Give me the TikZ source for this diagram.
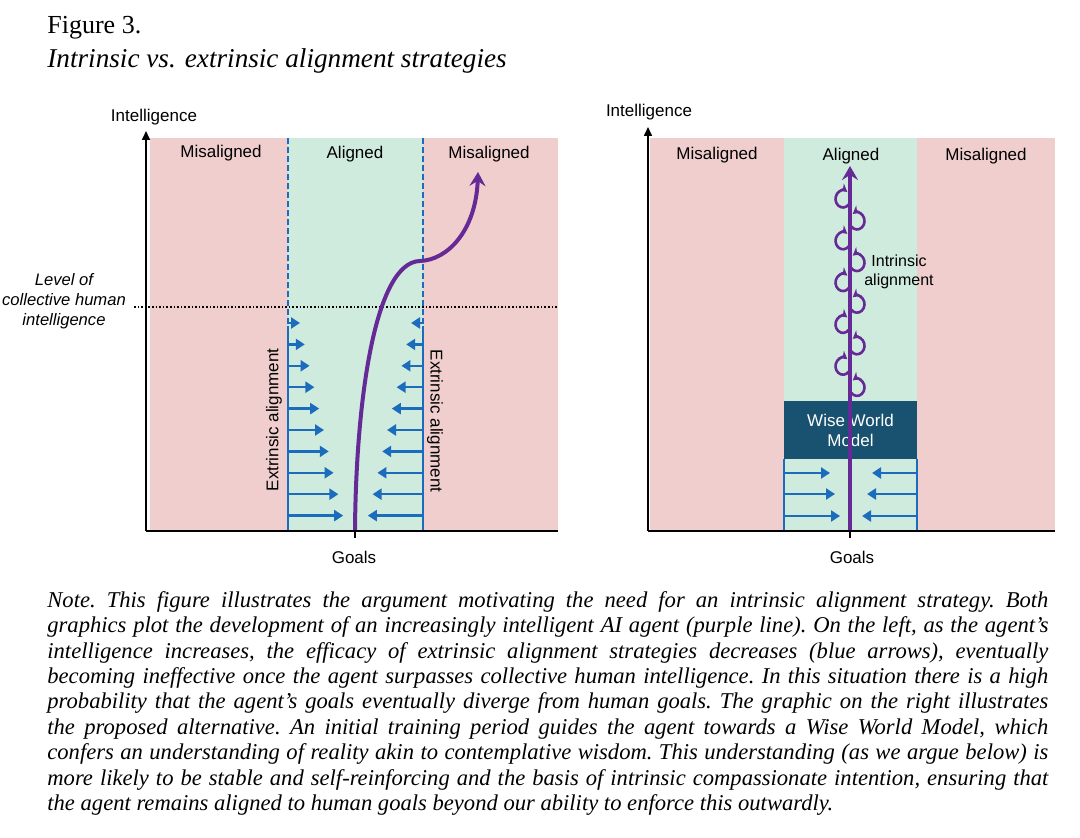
\documentclass[tikz,border=0pt]{standalone}
\usepackage{fontspec}
\setmainfont{Liberation Serif}
\setsansfont{Liberation Sans}
\usetikzlibrary{arrows.meta,calc}
\definecolor{misred}{RGB}{240,206,206}
\definecolor{okgreen}{RGB}{207,235,221}
\definecolor{ctrlblue}{RGB}{28,108,190}
\definecolor{agentpurple}{RGB}{102,42,150}
\definecolor{wwmteal}{RGB}{24,82,112}

\begin{document}
\begin{tikzpicture}[x=0.5pt, y=-0.5pt,
  lbl/.style={font=\sffamily\fontsize{8.5}{10}\selectfont},
  axis/.style={line width=0.8pt},
  ctrl/.style={ctrlblue, line width=1.2pt, -{Triangle[length=4.5pt,width=5.5pt]}},
  agent/.style={agentpurple, line width=2pt, -{Stealth[length=7pt,width=8pt,inset=2.5pt]}},
  curl/.style={agentpurple, line width=1.3pt, -{Stealth[length=4pt,width=4.5pt]}}]
  \useasboundingbox (0,0) rectangle (1080,838);

  % Title
  \node[anchor=base west, inner sep=0, font=\fontsize{13}{15}\selectfont] (fignum) at (47,34) {Figure 3.};
  \node[anchor=base west, inner sep=0, font=\fontsize{13.6}{15}\selectfont\itshape] (figtitle) at (47,68) {Intrinsic vs. extrinsic alignment strategies};

  % Left graphic: regions
  \fill[misred] (150,138) rectangle (558,530);
  \fill[okgreen] (288,138) rectangle (423,530);
  \node[lbl] (misleftA) at (221,153) {Misaligned};
  \node[lbl] (alleft) at (355,154) {Aligned};
  \node[lbl] (misleftB) at (489,154) {Misaligned};

  % Borders of the aligned band
  \draw[ctrlblue, line width=1pt, dash pattern=on 3pt off 1.5pt] (288,138) -- (288,326) (423,138) -- (423,326);
  \draw[ctrlblue, line width=1pt] (288,326) -- (288,530) (423,326) -- (423,530);

  % Level of collective human intelligence
  \draw[line width=0.8pt, dash pattern=on 0.8pt off 1pt] (134,307) -- (558,307);
  \node[lbl, font=\sffamily\itshape\fontsize{8.3}{10}\selectfont, align=center] (level) at (64,301) {Level of\\collective human\\intelligence};

  % Extrinsic alignment arrows
  \foreach \i in {0,...,9} {
    \draw[ctrl] (288,{323+21.4*\i}) -- ({300+4.8*\i},{323+21.4*\i});
    \draw[ctrl] (423,{323+21.4*\i}) -- ({411-4.8*\i},{323+21.4*\i});
  }
  \node[lbl, rotate=90] (extleft) at (274,420) {Extrinsic alignment};
  \node[lbl, rotate=-90] (extright) at (435,421) {Extrinsic alignment};

  % Agent path
  \draw[agent] (355,530) .. controls (356,400) and (375,262) .. (420,261) .. controls (448,260) and (476,230) .. (478,172);

  % Axes
  \draw[axis, -{Triangle[length=4.5pt,width=4pt]}] (146,531) -- (146,131);
  \draw[axis] (146,531) -- (558,531) (355,531) -- (355,538);
  \node[lbl] (intleft) at (154,117) {Intelligence};
  \node[lbl] (goalsleft) at (354,557) {Goals};

  % Right graphic: regions
  \fill[misred] (650,138) rectangle (1055,530);
  \fill[okgreen] (784,138) rectangle (917,530);
  \node[lbl] (misrightA) at (717,155) {Misaligned};
  \node[lbl] (alright) at (851,156) {Aligned};
  \node[lbl] (misrightB) at (986,156) {Misaligned};

  % Wise World Model
  \node[fill=wwmteal, text=white, minimum width=66.5pt, minimum height=29pt, inner sep=0, lbl, align=center] (wwm) at (850.5,430.5) {Wise World\\Model};
  \draw[ctrlblue, line width=1pt] (784,459) -- (784,530) (917,459) -- (917,530);
  \foreach \y/\l/\r in {473/830/872, 494/835/867, 516/840/862} {
    \draw[ctrl] (784,\y) -- (\l,\y);
    \draw[ctrl] (917,\y) -- (\r,\y);
  }

  % Agent path with intrinsic alignment
  \draw[agent] (850,530) -- (850,166);
  \foreach \k in {0,...,4} {
    \draw[curl] ($(843,{199+41.8*\k})+(40:7.5 and 8.5)$) arc[start angle=40, end angle=305, x radius=7.5, y radius=8.5];
    \draw[curl] ($(857,{221+41.6*\k})+(140:7.5 and 8.5)$) arc[start angle=140, end angle=-125, x radius=7.5, y radius=8.5];
  }
  \node[lbl, font=\sffamily\fontsize{8}{9.5}\selectfont, align=center] (intrinsic) at (899,272) {Intrinsic\\alignment};

  % Axes
  \draw[axis, -{Triangle[length=4.5pt,width=4pt]}] (648,531) -- (648,127);
  \draw[axis] (648,531) -- (1055,531) (850,531) -- (850,538);
  \node[lbl] (intright) at (649,112) {Intelligence};
  \node[lbl] (goalsright) at (852,557) {Goals};

  % Note
  \node[anchor=north west, inner sep=0, text width=500.5pt, align=justify, font=\fontsize{11.3}{12.7}\selectfont\itshape\frenchspacing] (note) at (47,591) {Note. This figure illustrates the argument motivating the need for an intrinsic alignment strategy. Both\linebreak
graphics plot the development of an increasingly intelligent AI agent (purple line). On the left, as the agent’s\linebreak
intelligence increases, the efficacy of extrinsic alignment strategies decreases (blue arrows), eventually\linebreak
becoming ineffective once the agent surpasses collective human intelligence. In this situation there is a high\linebreak
probability that the agent’s goals eventually diverge from human goals. The graphic on the right illustrates\linebreak
the proposed alternative. An initial training period guides the agent towards a Wise World Model, which\linebreak
confers an understanding of reality akin to contemplative wisdom. This understanding (as we argue below) is\linebreak
more likely to be stable and self-reinforcing and the basis of intrinsic compassionate intention, ensuring that\linebreak
the agent remains aligned to human goals beyond our ability to enforce this outwardly.};
\end{tikzpicture}
\end{document}
